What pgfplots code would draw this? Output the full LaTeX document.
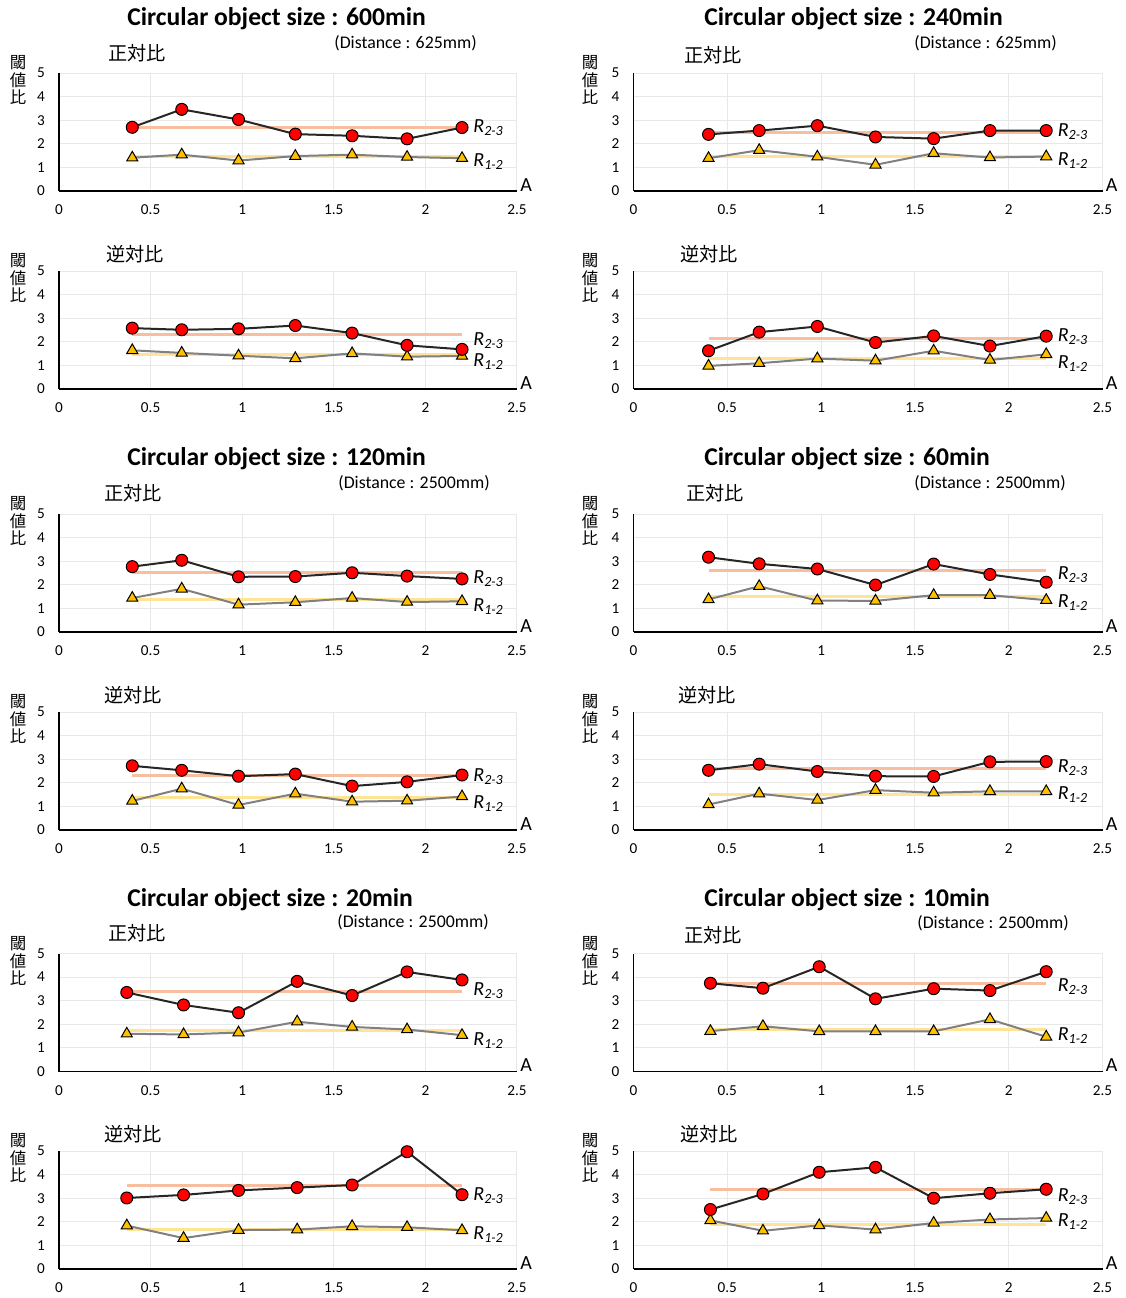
\documentclass[border=0pt]{standalone}
\usepackage{fontspec}
\setmainfont{Carlito}
\newfontfamily\jp{Noto Sans CJK JP}
\usepackage{pgfplots}
\pgfplotsset{compat=1.18}
\definecolor{meanAc}{RGB}{247,190,160}
\definecolor{meanBc}{RGB}{255,228,150}
\definecolor{lineAc}{RGB}{38,38,38}
\definecolor{lineBc}{RGB}{128,128,128}
\definecolor{mkA}{RGB}{255,0,0}
\definecolor{mkB}{RGB}{255,192,0}
\definecolor{gridc}{RGB}{232,232,232}
\pgfplotsset{
 panel/.style={scale only axis, height=59pt, xmin=0,xmax=2.5,ymin=0,ymax=5,
   xtick={0,0.5,1,1.5,2,2.5}, ytick={0,1,2,3,4,5},
   axis x line*=bottom, axis y line*=left,
   axis line style={black, line width=0.8pt},
   grid=major, grid style={gridc, line width=0.5pt},
   major tick length=0pt,
   tick label style={font=\fontsize{7.6}{8}\selectfont},
   /pgf/number format/assume math mode=true,
   xticklabel style={yshift=-3.5pt},
   yticklabel style={xshift=-3.5pt},
   clip=false, anchor=south west},
 L/.style={panel, width=229pt},
 R/.style={panel, width=234.5pt},
 meanA/.style={meanAc, line width=1.5pt, no marks},
 meanB/.style={meanBc, line width=1.5pt, no marks},
 serA/.style={lineAc, line width=1pt, mark=*, mark size=3pt, mark options={fill=mkA, draw=black, line width=0.5pt}},
 serB/.style={lineBc, line width=1pt, mark=triangle*, mark size=3.2pt, mark options={fill=mkB, draw=black, line width=0.5pt}},
}
\newcommand\rlabels[2]{%
 \node[anchor=west, font=\fontsize{10}{11}\selectfont, inner sep=0pt] at (axis cs:2.26,#1) {\textit{R}\textsubscript{\textit{2-3}}};
 \node[anchor=west, font=\fontsize{10}{11}\selectfont, inner sep=0pt] at (axis cs:2.26,#2) {\textit{R}\textsubscript{\textit{1-2}}};
 \node[anchor=base west, font=\fontsize{10}{11}\selectfont, inner sep=0pt, xshift=1.5pt] at (axis cs:2.5,0) {A};
}
\begin{document}
\begin{tikzpicture}
\useasboundingbox (0,0) rectangle (563pt,-649pt);
% ---------- Row 1: 600min 正対比
\begin{axis}[L, at={(29.5pt,-95.5pt)}]
\addplot[meanA] coordinates {(0.40,2.69) (2.20,2.69)};
\addplot[meanB] coordinates {(0.40,1.46) (2.20,1.46)};
\addplot[serB] coordinates {(0.40,1.41) (0.67,1.54) (0.98,1.29) (1.29,1.48) (1.60,1.54) (1.90,1.44) (2.20,1.39)};
\addplot[serA] coordinates {(0.40,2.70) (0.67,3.46) (0.98,3.03) (1.29,2.41) (1.60,2.34) (1.90,2.21) (2.20,2.69)};
\rlabels{2.69}{1.25}
\end{axis}
% 240min 正対比
\begin{axis}[R, at={(316.75pt,-95.5pt)}]
\addplot[meanA] coordinates {(0.40,2.49) (2.20,2.49)};
\addplot[meanB] coordinates {(0.40,1.47) (2.20,1.47)};
\addplot[serB] coordinates {(0.40,1.39) (0.67,1.73) (0.98,1.45) (1.29,1.11) (1.60,1.60) (1.90,1.42) (2.20,1.46)};
\addplot[serA] coordinates {(0.40,2.40) (0.67,2.56) (0.98,2.77) (1.29,2.29) (1.60,2.22) (1.90,2.56) (2.20,2.56)};
\rlabels{2.53}{1.31}
\end{axis}
% ---------- Row 2: 600min 逆対比
\begin{axis}[L, at={(29.5pt,-194.5pt)}]
\addplot[meanA] coordinates {(0.40,2.32) (2.20,2.32)};
\addplot[meanB] coordinates {(0.40,1.46) (2.20,1.46)};
\addplot[serB] coordinates {(0.40,1.64) (0.67,1.53) (0.98,1.41) (1.29,1.30) (1.60,1.51) (1.90,1.37) (2.20,1.40)};
\addplot[serA] coordinates {(0.40,2.58) (0.67,2.51) (0.98,2.55) (1.29,2.69) (1.60,2.37) (1.90,1.85) (2.20,1.68)};
\rlabels{2.06}{1.15}
\end{axis}
% 240min 逆対比
\begin{axis}[R, at={(316.75pt,-194.5pt)}]
\addplot[meanA] coordinates {(0.40,2.14) (2.20,2.14)};
\addplot[meanB] coordinates {(0.40,1.30) (2.20,1.30)};
\addplot[serB] coordinates {(0.40,0.98) (0.67,1.09) (0.98,1.29) (1.29,1.20) (1.60,1.62) (1.90,1.23) (2.20,1.47)};
\addplot[serA] coordinates {(0.40,1.62) (0.67,2.41) (0.98,2.65) (1.29,1.97) (1.60,2.25) (1.90,1.82) (2.20,2.24)};
\rlabels{2.20}{1.08}
\end{axis}
% ---------- Row 3: 120min 正対比
\begin{axis}[L, at={(29.5pt,-316pt)}]
\addplot[meanA] coordinates {(0.40,2.52) (2.20,2.52)};
\addplot[meanB] coordinates {(0.40,1.39) (2.20,1.39)};
\addplot[serB] coordinates {(0.40,1.44) (0.67,1.83) (0.98,1.16) (1.29,1.26) (1.60,1.44) (1.90,1.27) (2.20,1.30)};
\addplot[serA] coordinates {(0.40,2.77) (0.67,3.04) (0.98,2.34) (1.29,2.35) (1.60,2.51) (1.90,2.37) (2.20,2.25)};
\rlabels{2.27}{1.08}
\end{axis}
% 60min 正対比
\begin{axis}[R, at={(316.75pt,-316pt)}]
\addplot[meanA] coordinates {(0.40,2.61) (2.20,2.61)};
\addplot[meanB] coordinates {(0.40,1.50) (2.20,1.50)};
\addplot[serB] coordinates {(0.40,1.38) (0.67,1.94) (0.98,1.33) (1.29,1.32) (1.60,1.56) (1.90,1.56) (2.20,1.35)};
\addplot[serA] coordinates {(0.40,3.17) (0.67,2.89) (0.98,2.67) (1.29,1.99) (1.60,2.88) (1.90,2.44) (2.20,2.11)};
\rlabels{2.43}{1.24}
\end{axis}
% ---------- Row 4: 120min 逆対比
\begin{axis}[L, at={(29.5pt,-415pt)}]
\addplot[meanA] coordinates {(0.40,2.30) (2.20,2.30)};
\addplot[meanB] coordinates {(0.40,1.37) (2.20,1.37)};
\addplot[serB] coordinates {(0.40,1.23) (0.67,1.75) (0.98,1.06) (1.29,1.54) (1.60,1.20) (1.90,1.24) (2.20,1.42)};
\addplot[serA] coordinates {(0.40,2.72) (0.67,2.53) (0.98,2.28) (1.29,2.37) (1.60,1.86) (1.90,2.04) (2.20,2.33)};
\rlabels{2.25}{1.13}
\end{axis}
% 60min 逆対比
\begin{axis}[R, at={(316.75pt,-415pt)}]
\addplot[meanA] coordinates {(0.40,2.59) (2.20,2.59)};
\addplot[meanB] coordinates {(0.40,1.50) (2.20,1.50)};
\addplot[serB] coordinates {(0.40,1.08) (0.67,1.54) (0.98,1.27) (1.29,1.69) (1.60,1.58) (1.90,1.64) (2.20,1.64)};
\addplot[serA] coordinates {(0.40,2.53) (0.67,2.79) (0.98,2.48) (1.29,2.28) (1.60,2.27) (1.90,2.89) (2.20,2.90)};
\rlabels{2.65}{1.50}
\end{axis}
% ---------- Row 5: 20min 正対比
\begin{axis}[L, at={(29.5pt,-535.75pt)}]
\addplot[meanA] coordinates {(0.37,3.39) (2.20,3.39)};
\addplot[meanB] coordinates {(0.37,1.74) (2.20,1.74)};
\addplot[serB] coordinates {(0.37,1.60) (0.68,1.57) (0.98,1.65) (1.30,2.11) (1.60,1.89) (1.90,1.78) (2.20,1.54)};
\addplot[serA] coordinates {(0.37,3.35) (0.68,2.82) (0.98,2.49) (1.30,3.82) (1.60,3.22) (1.90,4.22) (2.20,3.88)};
\rlabels{3.43}{1.33}
\end{axis}
% 10min 正対比
\begin{axis}[R, at={(316.75pt,-535.75pt)}]
\addplot[meanA] coordinates {(0.41,3.71) (2.20,3.71)};
\addplot[meanB] coordinates {(0.41,1.78) (2.20,1.78)};
\addplot[serB] coordinates {(0.41,1.71) (0.69,1.92) (0.99,1.70) (1.29,1.70) (1.60,1.70) (1.90,2.21) (2.20,1.47)};
\addplot[serA] coordinates {(0.41,3.74) (0.69,3.53) (0.99,4.44) (1.29,3.08) (1.60,3.51) (1.90,3.43) (2.20,4.23)};
\rlabels{3.58}{1.52}
\end{axis}
% ---------- Row 6: 20min 逆対比
\begin{axis}[L, at={(29.5pt,-634.5pt)}]
\addplot[meanA] coordinates {(0.37,3.52) (2.20,3.52)};
\addplot[meanB] coordinates {(0.37,1.69) (2.20,1.69)};
\addplot[serB] coordinates {(0.37,1.84) (0.68,1.31) (0.98,1.65) (1.30,1.67) (1.60,1.81) (1.90,1.77) (2.20,1.64)};
\addplot[serA] coordinates {(0.37,3.01) (0.68,3.14) (0.98,3.33) (1.30,3.45) (1.60,3.56) (1.90,4.97) (2.20,3.15)};
\rlabels{3.09}{1.44}
\end{axis}
% 10min 逆対比
\begin{axis}[R, at={(316.75pt,-634.5pt)}]
\addplot[meanA] coordinates {(0.41,3.38) (2.20,3.38)};
\addplot[meanB] coordinates {(0.41,1.90) (2.20,1.90)};
\addplot[serB] coordinates {(0.41,2.06) (0.69,1.62) (0.99,1.85) (1.29,1.67) (1.60,1.95) (1.90,2.10) (2.20,2.16)};
\addplot[serA] coordinates {(0.41,2.52) (0.69,3.18) (0.99,4.10) (1.29,4.31) (1.60,3.00) (1.90,3.21) (2.20,3.38)};
\rlabels{3.07}{1.99}
\end{axis}
% ---------- text
\begin{scope}[x=0.5pt,y=-0.5pt]
\tikzset{ttl/.style={anchor=west, inner sep=0pt, font=\fontsize{12.8}{14}\selectfont\bfseries},
 sub/.style={anchor=west, inner sep=0pt, font=\fontsize{8.9}{10}\selectfont},
 jl/.style={anchor=west, inner sep=0pt, font=\jp\fontsize{9.6}{11}\selectfont},
 yl/.style={align=center, inner sep=0pt, font=\jp\fontsize{8.2}{8.75}\selectfont}}
\node[ttl] at (127,19) {Circular object size : 600min};
\node[ttl] at (704,19) {Circular object size : 240min};
\node[ttl] at (127,459) {Circular object size : 120min};
\node[ttl] at (704,459) {Circular object size : 60min};
\node[ttl] at (127,900) {Circular object size : 20min};
\node[ttl] at (704,900) {Circular object size : 10min};
\node[sub] at (334,43) {(Distance : 625mm)};
\node[sub] at (914,43) {(Distance : 625mm)};
\node[sub] at (338,483) {(Distance : 2500mm)};
\node[sub] at (914,483) {(Distance : 2500mm)};
\node[sub] at (337,922) {(Distance : 2500mm)};
\node[sub] at (917,923) {(Distance : 2500mm)};
\node[jl] at (108,53) {正対比};
\node[jl] at (684,55) {正対比};
\node[jl] at (106,254) {逆対比};
\node[jl] at (680,254) {逆対比};
\node[jl] at (104,493) {正対比};
\node[jl] at (686,493) {正対比};
\node[jl] at (104,695) {逆対比};
\node[jl] at (678,695) {逆対比};
\node[jl] at (108,933) {正対比};
\node[jl] at (684,935) {正対比};
\node[jl] at (104,1134) {逆対比};
\node[jl] at (680,1134) {逆対比};
\foreach \yy in {80,278,521,719,961,1158} {
 \node[yl] at (18,\yy) {閾\\値\\比};
 \node[yl] at (590,\yy) {閾\\値\\比};
}
\end{scope}
\end{tikzpicture}
\end{document}
